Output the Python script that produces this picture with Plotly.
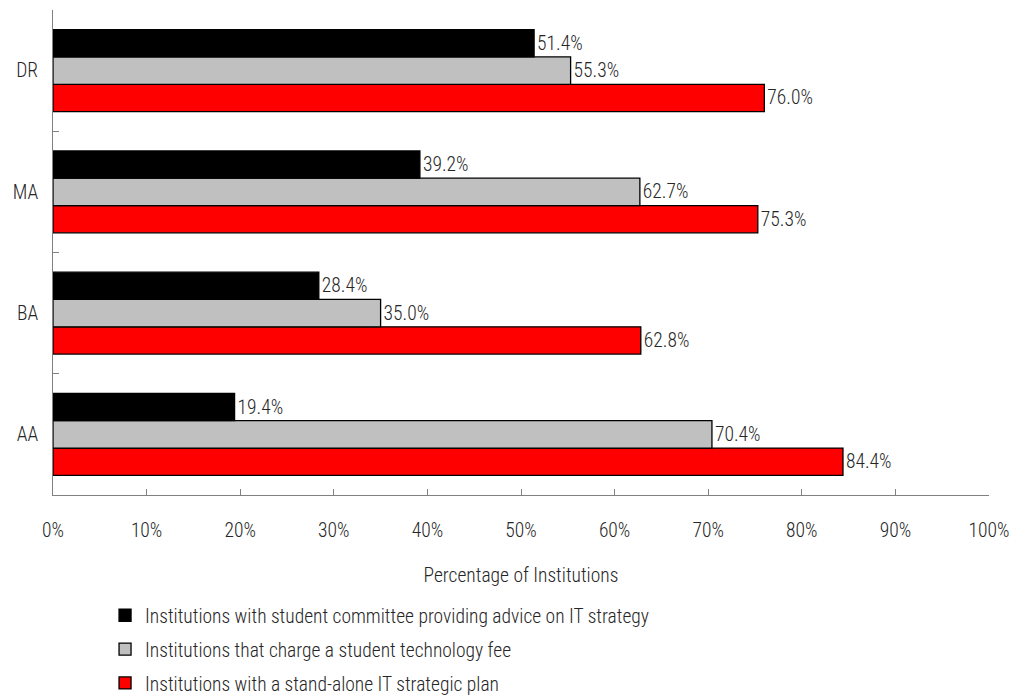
import plotly.graph_objects as go

categories = ["AA", "BA", "MA", "DR"]
committee = [19.4, 28.4, 39.2, 51.4]
tech_fee = [70.4, 35.0, 62.7, 55.3]
strategic_plan = [84.4, 62.8, 75.3, 76.0]

names = [
    "Institutions with student committee providing advice on IT strategy",
    "Institutions that charge a student technology fee",
    "Institutions with a stand-alone IT strategic plan",
]
colors = ["#000000", "#C0C0C0", "#FF0000"]
series = [committee, tech_fee, strategic_plan]

FONT = "Roboto Condensed, Arial Narrow, Roboto, sans-serif"
TXT = "#262626"
W = 300
FS = 19.5


def f(size=FS):
    return dict(size=size, family=FONT, color=TXT, weight=W)


fig = go.Figure()
# add in reverse so black sits at top of each group
for i in [2, 1, 0]:
    fig.add_trace(go.Bar(
        y=categories, x=series[i], orientation="h", name=names[i],
        marker=dict(color=colors[i], line=dict(color="#000000", width=1.3)),
        text=[f"{v:.1f}%" for v in series[i]], textposition="outside",
        textfont=f(),
        cliponaxis=False, legendgroup=f"g{i}", legendrank=i + 1,
    ))

fig.update_layout(
    width=1023, height=698,
    margin=dict(l=53, r=34, t=10, b=203),
    plot_bgcolor="white", paper_bgcolor="white",
    barmode="group", bargap=0.324, bargroupgap=0,
    font=f(),
    showlegend=True,
    legend=dict(traceorder="grouped", orientation="v",
                xref="paper", yref="container",
                x=0.0556, y=0.146, xanchor="left", yanchor="top", tracegroupgap=5.5,
                font=f()),
    xaxis=dict(range=[0, 100], tickvals=list(range(0, 101, 10)),
               ticktext=[f"{v}%" for v in range(0, 101, 10)],
               showgrid=False, zeroline=False, showline=True, linecolor="#808080",
               ticks="inside", ticklen=6, tickcolor="#808080",
               ticklabelstandoff=18,
               title=dict(text="Percentage of Institutions", standoff=26, font=f()),
               tickfont=f()),
    yaxis=dict(showgrid=False, zeroline=False, showline=True, linecolor="#808080",
               ticks="inside", ticklen=6, tickcolor="#808080", tickson="boundaries",
               tickfont=f(), ticklabelstandoff=10),
)
fig.write_html("out.html")
